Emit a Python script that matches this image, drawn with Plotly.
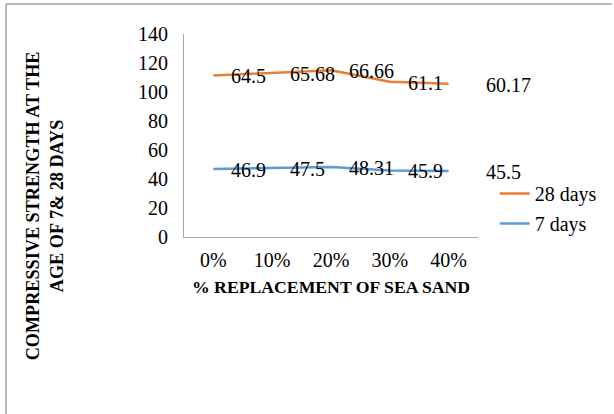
import plotly.graph_objects as go

# Compressive strength (MPa) by percentage of sea sand replacement
categories = ["0%", "10%", "20%", "30%", "40%"]
strength_7_days = [46.9, 47.5, 48.31, 45.9, 45.5]
strength_28_days = [64.5, 65.68, 66.66, 61.1, 60.17]

# (name, values, colour, legend rank)
series = [
    ("7 days", strength_7_days, "#5B9BD5", 2),
    ("28 days", strength_28_days, "#ED7D31", 1),
]

FONT = "Liberation Serif, Times New Roman, serif"
TEXT_SIZE = 20

# Plot area in pixels (figure is 614 x 414)
PL, PR, PT, PB = 184, 483, 34, 237
W, H = 614, 414


def px_x(px):
    return (px - PL) / (PR - PL)


def px_y(py):
    return (PB - py) / (PB - PT)


fig = go.Figure()

# Stacked line chart: each series sits on top of the previous one
running = [0.0] * len(categories)
annotations = []
last = len(categories) - 1
for name, values, color, rank in series:
    fig.add_trace(go.Scatter(
        x=categories, y=values, name=name,
        mode="lines", stackgroup="strength", fill="none",
        line=dict(color=color, width=2.5),
        legendgroup=name, legendrank=rank,
    ))
    running = [r + v for r, v in zip(running, values)]
    for i, (cat, top, v) in enumerate(zip(categories, running, values)):
        # value labels sit to the right of each point; the end label
        # clears the line end a little further
        annotations.append(dict(
            x=cat, y=top, xref="x", yref="y", text=f"{v:g}",
            showarrow=False, xanchor="left", yanchor="middle",
            xshift=35 if i == last else 16, yshift=-1,
            font=dict(family=FONT, size=TEXT_SIZE, color="#000000"),
        ))

annotations.append(dict(
    x=px_x(43), y=px_y(206), xref="paper", yref="paper",
    text="<b>COMPRESSIVE STRENGTH AT THE<br>AGE OF 7& 28 DAYS</b>",
    textangle=-90, showarrow=False, xanchor="center", yanchor="middle",
    font=dict(family=FONT, size=18.2, color="#000000"),
))
annotations.append(dict(
    x=px_x(334), y=px_y(287), xref="paper", yref="paper",
    text="<b>% REPLACEMENT OF SEA SAND</b>",
    showarrow=False, xanchor="center", yanchor="middle",
    font=dict(family=FONT, size=17.7, color="#000000"),
))

axis_grey = "#A6A6A6"
border_grey = "#A0A0A0"

fig.update_layout(
    width=W, height=H,
    margin=dict(l=PL, r=W - PR, t=PT, b=H - PB),
    paper_bgcolor="#FFFFFF", plot_bgcolor="#FFFFFF",
    font=dict(family=FONT, size=TEXT_SIZE, color="#000000"),
    showlegend=True,
    legend=dict(
        x=px_x(500), y=px_y(174), xanchor="left", yanchor="top",
        traceorder="grouped", tracegroupgap=1,
        bgcolor="rgba(0,0,0,0)",
        font=dict(family=FONT, size=TEXT_SIZE, color="#000000"),
    ),
    xaxis=dict(
        type="category", range=[-0.5, len(categories) - 0.5],
        showline=True, linecolor=axis_grey, linewidth=1,
        showgrid=False, zeroline=False, ticks="",
        ticklabelstandoff=5,
        tickfont=dict(family=FONT, size=TEXT_SIZE, color="#000000"),
    ),
    yaxis=dict(
        range=[0, 140], dtick=20, tick0=0,
        showline=True, linecolor=axis_grey, linewidth=1,
        showgrid=False, zeroline=False, ticks="",
        ticklabelstandoff=11,
        tickfont=dict(family=FONT, size=TEXT_SIZE, color="#000000"),
    ),
    annotations=annotations,
    shapes=[
        dict(type="line", xref="paper", yref="paper",
             x0=px_x(3), y0=px_y(4), x1=px_x(W + 5), y1=px_y(4),
             line=dict(color=border_grey, width=1.5)),
        dict(type="line", xref="paper", yref="paper",
             x0=px_x(3), y0=px_y(4), x1=px_x(3), y1=px_y(H + 5),
             line=dict(color=border_grey, width=1.5)),
    ],
)

fig.write_html("out.html")
